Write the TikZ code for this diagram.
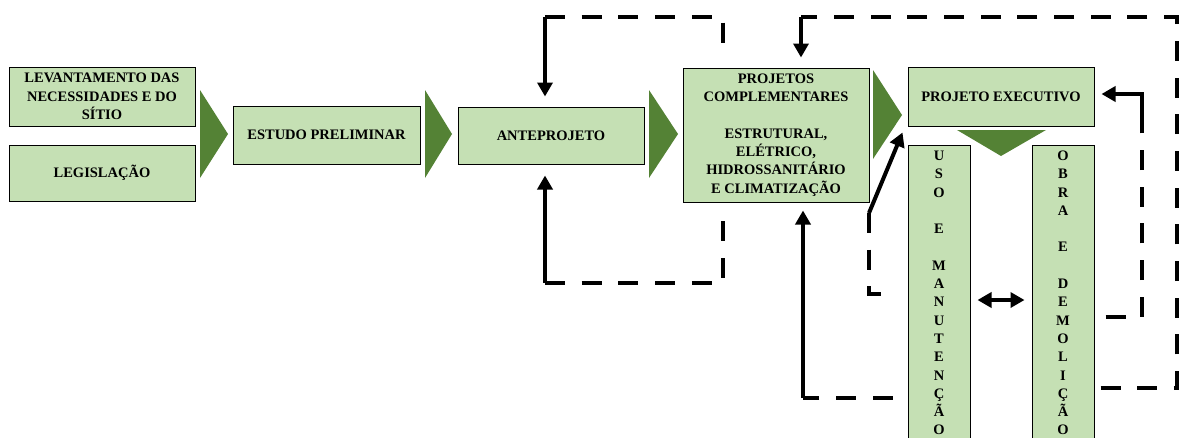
\documentclass[tikz,border=0pt]{standalone}
\usepackage{fontspec}
\setmainfont{Liberation Serif}
\usetikzlibrary{arrows.meta}
\definecolor{boxgreen}{HTML}{C5E0B4}
\definecolor{arrowgreen}{HTML}{548235}
\tikzset{
  box/.style={draw=black, line width=1pt, fill=boxgreen, align=center, inner sep=0pt,
    font=\bfseries\fontsize{14.5}{18.3}\selectfont},
  dashline/.style={line width=4pt, dash pattern=on 20pt off 16.7pt},
  arrowline/.style={line width=4pt, -{Triangle[length=14pt,width=15pt]}},
}

\begin{document}
\begin{tikzpicture}[x=1pt,y=-1pt]
\useasboundingbox (0,0) rectangle (1181,437);
\clip (0,0) rectangle (1181,437);
% caixas
\node[box, minimum width=186pt, minimum height=59pt] (lev) at (102,96.5) {LEVANTAMENTO DAS\\NECESSIDADES E DO\\SÍTIO};
\node[box, minimum width=186pt, minimum height=56pt] (leg) at (102,173) {LEGISLAÇÃO};
\node[box, minimum width=187pt, minimum height=58pt] (estudo) at (326.5,135) {ESTUDO PRELIMINAR};
\node[box, minimum width=186pt, minimum height=57pt] (ante) at (551,135.5) {ANTEPROJETO};
\node[box, minimum width=186pt, minimum height=134pt] (compl) at (776,135)
  {PROJETOS\\COMPLEMENTARES\\\mbox{}\\ESTRUTURAL,\\ELÉTRICO,\\HIDROSSANITÁRIO\\E CLIMATIZAÇÃO};
\node[box, minimum width=186pt, minimum height=59pt] (exec) at (1001,96.5) {PROJETO EXECUTIVO};
\node[box, minimum width=62pt, minimum height=296pt] (uso) at (939,293)
  {U\\S\\O\\\mbox{}\\E\\\mbox{}\\M\\A\\N\\U\\T\\E\\N\\Ç\\Ã\\O};
\node[box, minimum width=62pt, minimum height=296pt] (obra) at (1063,293)
  {O\\B\\R\\A\\\mbox{}\\E\\\mbox{}\\D\\E\\M\\O\\L\\I\\Ç\\Ã\\O};

% setas verdes
\fill[arrowgreen] (200,90) -- (200,178) -- (228,134) -- cycle;
\fill[arrowgreen] (425,90) -- (425,178) -- (452,134) -- cycle;
\fill[arrowgreen] (649,90) -- (649,178) -- (678,134) -- cycle;
\fill[arrowgreen] (873,70) -- (873,159) -- (902,115) -- cycle;
\fill[arrowgreen] (957,130) -- (1046,130) -- (1001,156) -- cycle;

% retornos
\coordinate (c1) at (545,17);
\coordinate (a1) at (723,55);
\draw[dashline] (c1) -| (a1);
\draw[arrowline, shorten >=10pt] (c1) -- (c1 |- ante.north);

\coordinate (c2) at (545,283);
\coordinate (a2) at (723,207);
\draw[dashline] (c2) -| (a2);
\draw[arrowline, shorten >=11pt] (c2) -- (c2 |- ante.south);

\coordinate (c3) at (801,17);
\coordinate (a3) at (1177,388);
\draw[dashline] ([xshift=6pt]obra.east |- a3) -- (a3) |- (c3);
\draw[arrowline, shorten >=10pt] (c3) -- (c3 |- compl.north);

\coordinate (c4) at (803,398);
\draw[dashline] ([xshift=-15pt]uso.west |- c4) -- (c4);
\draw[arrowline, shorten >=8pt] (c4) -- (c4 |- compl.south);

\coordinate (c5) at (869,213);
\coordinate (a5) at (869,294);
\draw[dashline] (c5) -- (a5) -- ([xshift=-20pt]uso.west |- a5);
\draw[arrowline] (c5) -- ([xshift=-5pt,yshift=-6pt]exec.south west);

\coordinate (c6) at (1142,94);
\coordinate (b6) at (1142,113);
\coordinate (a6) at (1142,317);
\draw[dashline] ([xshift=11pt]obra.east |- a6) -- (a6) -- (b6);
\draw[arrowline, shorten >=7pt] (b6) -- (c6) -- (c6 -| exec.east);

\coordinate (m) at (1001,300);
\draw[line width=4pt, {Triangle[length=14pt,width=15pt]}-{Triangle[length=14pt,width=15pt]},
  shorten <=7pt, shorten >=7pt] (uso.east |- m) -- (obra.west |- m);
\end{tikzpicture}
\end{document}
